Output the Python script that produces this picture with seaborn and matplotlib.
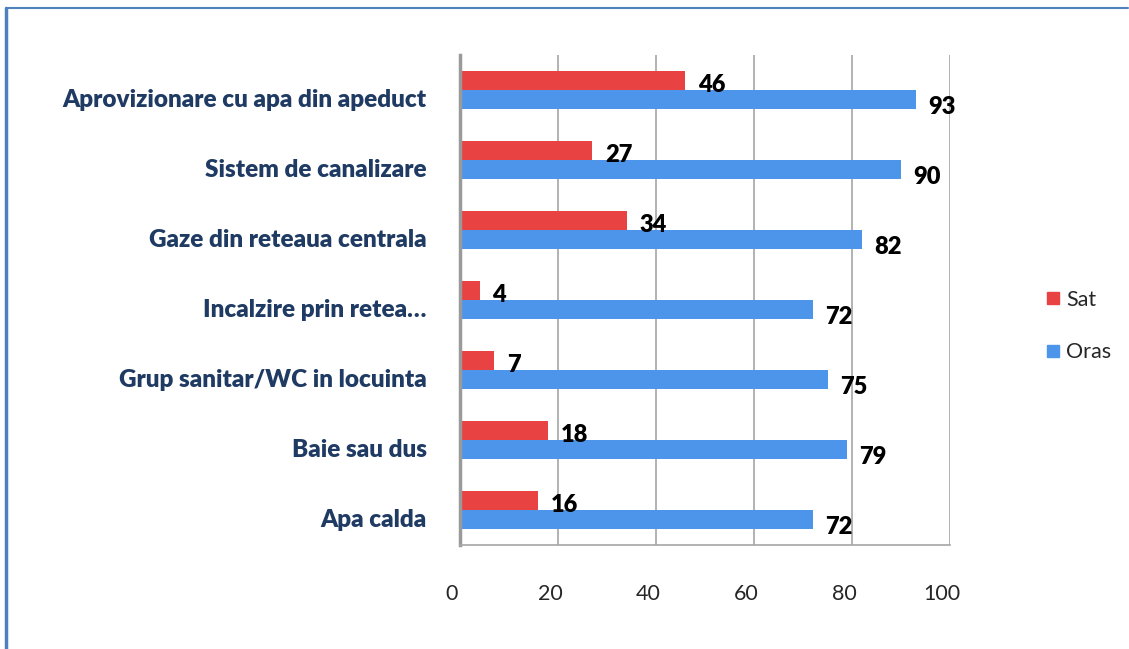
import matplotlib
matplotlib.use("Agg")
import matplotlib.pyplot as plt
import matplotlib.transforms as mtransforms
from matplotlib.lines import Line2D
import seaborn as sns
import pandas as pd

categories = ["Aprovizionare cu apa din apeduct", "Sistem de canalizare",
              "Gaze din reteaua centrala", "Incalzire prin retea…",
              "Grup sanitar/WC in locuinta", "Baie sau dus", "Apa calda"]
sat = [46, 27, 34, 4, 7, 18, 16]
oras = [93, 90, 82, 72, 75, 79, 72]
series = ["Sat", "Oras"]
xticks = [0, 20, 40, 60, 80, 100]

RED = "#E84242"
BLUE = "#4C95EA"

df = pd.DataFrame({
    "cat": categories * 2,
    "val": sat + oras,
    "serie": ["Sat"] * len(categories) + ["Oras"] * len(categories),
})

sns.set_theme(style="white")
plt.rcParams["font.family"] = ["Lato", "DejaVu Sans"]

fig = plt.figure(figsize=(11.29, 6.49), dpi=100)
ax = fig.add_axes([460 / 1129, 1 - 545 / 649, 490 / 1129, 490 / 649])

sns.barplot(data=df, y="cat", x="val", hue="serie", hue_order=series,
            palette=[RED, BLUE], orient="h", width=0.55, ax=ax,
            legend=False, saturation=1, edgecolor="none")

ax.set_xlim(0, 100)
ax.set_ylim(6.5, -0.5)
ax.set_xlabel("")
ax.set_ylabel("")
ax.set_xticks(xticks)
ax.set_xticklabels([str(t) for t in xticks], fontsize=15.5)
ax.tick_params(axis="x", length=0, pad=28)
for lab in ax.get_xticklabels():
    lab.set_transform(lab.get_transform() + mtransforms.ScaledTranslation(-8 / 100, 0, fig.dpi_scale_trans))

ax.set_yticks(range(len(categories)))
ax.set_yticklabels(categories, fontsize=17.5, fontweight="heavy", color="#1F3B63")
ax.tick_params(axis="y", length=0, pad=24)
for lab in ax.get_yticklabels():
    lab.set_transform(lab.get_transform() + mtransforms.ScaledTranslation(0, -8 / 100, fig.dpi_scale_trans))

# category separator ticks
ax.set_yticks([i - 0.5 for i in range(len(categories) + 1)], minor=True)
ax.tick_params(axis="y", which="minor", length=8, width=1.2, color="#888888", direction="out")

ax.grid(axis="x", color="#A6A6A6", linewidth=1.2)
ax.set_axisbelow(True)
for side in ["top", "right"]:
    ax.spines[side].set_visible(False)
ax.spines["left"].set_color("#9A9A9A")
ax.spines["left"].set_linewidth(2.5)
ax.spines["bottom"].set_color("#A6A6A6")
ax.spines["bottom"].set_linewidth(1.2)

for cont, vals, dy in zip(ax.containers, [sat, oras], [-3, -5]):
    for patch, v in zip(cont.patches, vals):
        yc = patch.get_y() + patch.get_height() / 2
        ax.annotate(str(v), xy=(patch.get_width(), yc), xytext=(9, dy),
                    textcoords="offset points", ha="left", va="center",
                    fontsize=17, fontweight="heavy", color="black")

handles = [Line2D([], [], marker="s", linestyle="none", markersize=9,
                  markerfacecolor=c, markeredgecolor=c) for c in [RED, BLUE]]
fig.legend(handles, series, loc="center left", bbox_to_anchor=(1025 / 1129, 1 - 326 / 649),
           frameon=False, fontsize=15.5, labelspacing=1.5, handletextpad=0.2,
           handlelength=0.8)

# outer border (top and left)
fig.add_artist(Line2D([6 / 1129, 6 / 1129], [0, 1 - 8 / 649], transform=fig.transFigure,
                      color="#4F81BD", linewidth=2.5))
fig.add_artist(Line2D([6 / 1129, 1128 / 1129], [1 - 8 / 649, 1 - 8 / 649], transform=fig.transFigure,
                      color="#4F81BD", linewidth=1.5))

fig.savefig("out.png", dpi=100, facecolor="white")
